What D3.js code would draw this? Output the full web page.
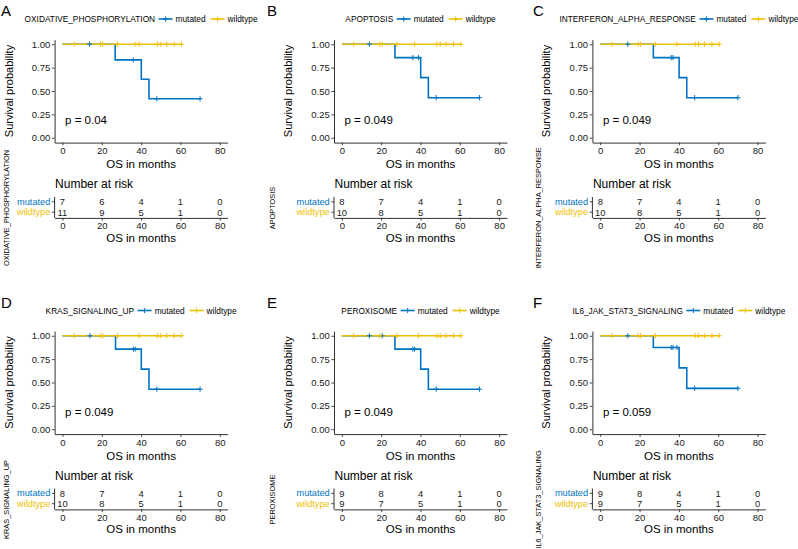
<!DOCTYPE html>
<html><head><meta charset="utf-8">
<script src="https://cdn.jsdelivr.net/npm/d3@7"></script>
<style>
html,body{margin:0;padding:0;background:#fff;}
text{font-family:"Liberation Sans",Arial,Helvetica,sans-serif;}
</style></head>
<body>
<svg id="chart" width="798" height="549"></svg>
<script>
// ---------- data ----------
const panelLetters = ["A","B","C","D","E","F"];
const geneSets = ["OXIDATIVE_PHOSPHORYLATION","APOPTOSIS","INTERFERON_ALPHA_RESPONSE",
                  "KRAS_SIGNALING_UP","PEROXISOME","IL6_JAK_STAT3_SIGNALING"];
const pValues = ["p = 0.04","p = 0.049","p = 0.049","p = 0.049","p = 0.049","p = 0.059"];
const strata = ["mutated","wildtype"];
const timeBreaks = [0,20,40,60,80];
const survTicks = [0,0.25,0.5,0.75,1];

// follow-up times (months) and event flags (1 = death) for the mutated group
const mutatedTimes = [
  [13.8,26.8,36,40.1,44,48,70],
  [14,27,36.1,39,40.1,44,48,70],
  [14,27,36.1,37,40.1,44,48,70],
  [14,27,36.1,37,40.1,44,48,70],
  [14,20.5,27,36.1,37,40.1,44,48,70],
  [14,27,36.1,37,39,40.1,44,48,70]
];
const mutatedEvents = [
  [0,1,0,1,1,0,0],
  [0,1,0,0,1,1,0,0],
  [0,1,0,0,1,1,0,0],
  [0,1,0,0,1,1,0,0],
  [0,0,1,0,0,1,1,0,0],
  [0,1,0,0,0,1,1,0,0]
];
// wildtype group: all censored
const wildtypeTimes = [
  [6,19.3,20.5,28,37,39,48.3,50,53,56.8,60.5],
  [6,19.3,20.5,28,37,48.3,50,53,56.8,60.5],
  [6,19.3,20.5,28,39,48.3,50,53,56.8,60.5],
  [6,19.3,20.5,28,39,48.3,50,53,56.8,60.5],
  [6,19.3,28,39,48.3,50,53,56.8,60.5],
  [6,19.3,20.5,28,48.3,50,53,56.8,60.5]
];
// numbers at risk at 0,20,40,60,80
const riskMutated = [[7,6,4,1,0],[8,7,4,1,0],[8,7,4,1,0],[8,7,4,1,0],[9,8,4,1,0],[9,8,4,1,0]];
const riskWildtype = [[11,9,5,1,0],[10,8,5,1,0],[10,8,5,1,0],[10,8,5,1,0],[9,7,5,1,0],[9,7,5,1,0]];

const colors = {mutated:"#0073C2", wildtype:"#EFC000"};

// ---------- layout ----------
const colAxisX = [54.6, 334, 592.4];
const cellX = [0, 266, 532];
const rowOffset = [0, 291.5];
const panelW = 173;

const svg = d3.select("#chart");

function kmSteps(times, events){
  const order = d3.range(times.length).sort((a,b)=>times[a]-times[b]);
  let atRisk = times.length, s = 1;
  const pts = [[0,1]];
  const cens = [];
  order.forEach(i=>{
    if(events[i]===1){ s = s*(atRisk-1)/atRisk; pts.push([times[i], s]); }
    else cens.push([times[i], s]);
    atRisk--;
  });
  pts.push([d3.max(times), s]);
  return {pts, cens};
}

function drawPlus(g, cx, cy, color, sz){
  g.append("path").attr("d",`M${cx-sz},${cy}H${cx+sz}M${cx},${cy-sz}V${cy+sz}`)
    .attr("stroke",color).attr("stroke-width",1).attr("fill","none");
}

panelLetters.forEach((letter, i)=>{
  const col = i%3, row = Math.floor(i/3);
  const ax = colAxisX[col], oy = rowOffset[row], cx0 = cellX[col];
  const g = svg.append("g");
  const x = d3.scaleLinear().domain([-4,84]).range([ax, ax+panelW]);
  const y = d3.scaleLinear().domain([-0.05,1.05]).range([oy+142.4, oy+39.6]);
  const midX = ax + panelW/2;

  // panel letter
  g.append("text").attr("x", cx0+1).attr("y", oy+16).attr("font-size",15).text(letter);

  // legend
  const lg = g.append("g");
  const lt = lg.append("text").attr("font-size",8.3).attr("dominant-baseline","central").attr("y",oy+19).text(geneSets[i]);
  const items = strata.map(s=>{
    const t = lg.append("text").attr("font-size",8.3).attr("dominant-baseline","central").attr("y",oy+19).text(s);
    return {s, t};
  });
  let total = lt.node().getComputedTextLength();
  items.forEach(it=>{ it.w = it.t.node().getComputedTextLength(); total += 3.5+14+3+it.w; });
  total += 1.5;
  let cur = midX - total/2;
  lt.attr("x", cur); cur += lt.node().getComputedTextLength();
  items.forEach((it,k)=>{
    cur += (k===0?3.5:5);
    lg.append("line").attr("x1",cur).attr("x2",cur+14).attr("y1",oy+19).attr("y2",oy+19)
      .attr("stroke",colors[it.s]).attr("stroke-width",1.6);
    drawPlus(lg, cur+7, oy+19, colors[it.s], 2.6);
    cur += 17;
    it.t.attr("x",cur); cur += it.w;
  });

  // axes of survival plot
  const yAxis = d3.axisLeft(y).tickValues(survTicks).tickFormat(d3.format(".2f")).tickSize(2.7).tickPadding(1.6).tickSizeOuter(0);
  const ya = g.append("g").attr("transform",`translate(${ax},0)`).call(yAxis);
  const xAxis = d3.axisBottom(x).tickValues(timeBreaks).tickSize(2.7).tickPadding(2).tickSizeOuter(0);
  const xa = g.append("g").attr("transform",`translate(0,${oy+142.6})`).call(xAxis);
  [ya,xa].forEach(a=>{
    a.selectAll("text").attr("font-size",9.5).attr("fill","#1a1a1a").attr("font-family","Liberation Sans, Arial, sans-serif");
    a.select(".domain").attr("stroke","#1a1a1a").attr("stroke-width",0.9);
    a.selectAll(".tick line").attr("stroke","#1a1a1a").attr("stroke-width",0.8);
  });

  g.append("text").attr("transform",`translate(${ax-46},${oy+91}) rotate(-90)`)
    .attr("text-anchor","middle").attr("dominant-baseline","central").attr("font-size",11).text("Survival probability");
  g.append("text").attr("x",midX).attr("y",oy+164).attr("text-anchor","middle")
    .attr("dominant-baseline","central").attr("font-size",11.5).text("OS in months");

  // curves
  const line = d3.line().curve(d3.curveStepAfter).x(d=>x(d[0])).y(d=>y(d[1]));
  const mut = kmSteps(mutatedTimes[i], mutatedEvents[i]);
  const wt = kmSteps(wildtypeTimes[i], wildtypeTimes[i].map(()=>0));
  const groups = [{s:"mutated", km:mut},{s:"wildtype", km:wt}];
  groups.forEach(gr=>{
    g.append("path").attr("d", line(gr.km.pts)).attr("fill","none")
      .attr("stroke",colors[gr.s]).attr("stroke-width",1.6);
  });
  groups.forEach(gr=>{
    gr.km.cens.forEach(c=> drawPlus(g, x(c[0]), y(c[1]), colors[gr.s], 2.6));
  });

  // p value
  g.append("text").attr("x",ax+10.5).attr("y",oy+120).attr("dominant-baseline","central")
    .attr("font-size",11.5).text(pValues[i]);

  // risk table
  g.append("text").attr("x",ax+0.5).attr("y",oy+184.3).attr("dominant-baseline","central")
    .attr("font-size",12).text("Number at risk");
  const rowY = d3.scalePoint().domain(strata).range([oy+201.8, oy+212.2]);
  g.append("line").attr("x1",ax).attr("x2",ax).attr("y1",oy+197).attr("y2",oy+218)
    .attr("stroke","#1a1a1a").attr("stroke-width",0.9);
  strata.forEach(s=>{
    g.append("line").attr("x1",ax-2.7).attr("x2",ax).attr("y1",rowY(s)).attr("y2",rowY(s))
      .attr("stroke","#1a1a1a").attr("stroke-width",0.8);
    g.append("text").attr("x",ax-4.3).attr("y",rowY(s)).attr("text-anchor","end")
      .attr("dominant-baseline","central").attr("font-size",9.2).attr("fill",colors[s]).text(s);
  });
  const riskRows = [{s:"mutated", v:riskMutated[i]},{s:"wildtype", v:riskWildtype[i]}];
  riskRows.forEach(r=>{
    r.v.forEach((n,k)=>{
      g.append("text").attr("x",x(timeBreaks[k])).attr("y",rowY(r.s)).attr("text-anchor","middle")
        .attr("dominant-baseline","central").attr("font-size",9.4).attr("fill","#1a1a1a").text(n);
    });
  });
  const xa2 = g.append("g").attr("transform",`translate(0,${oy+217.9})`).call(xAxis);
  xa2.selectAll("text").attr("font-size",9.5).attr("fill","#1a1a1a").attr("font-family","Liberation Sans, Arial, sans-serif");
  xa2.select(".domain").attr("stroke","#1a1a1a").attr("stroke-width",0.9);
  xa2.selectAll(".tick line").attr("stroke","#1a1a1a").attr("stroke-width",0.8);
  g.append("text").attr("x",midX).attr("y",oy+237.7).attr("text-anchor","middle")
    .attr("dominant-baseline","central").attr("font-size",11.5).text("OS in months");
  g.append("text").attr("transform",`translate(${cx0+6},${oy+208}) rotate(-90)`)
    .attr("text-anchor","middle").attr("dominant-baseline","central").attr("font-size",7.4).text(geneSets[i]);
});
</script>
</body></html>
